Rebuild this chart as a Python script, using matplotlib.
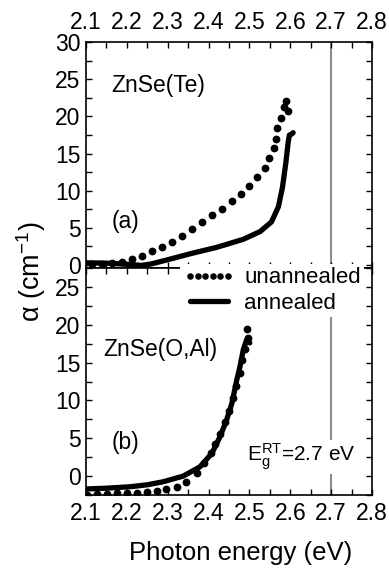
import numpy as np
import matplotlib
matplotlib.use("Agg")
import matplotlib.pyplot as plt
from matplotlib.ticker import MultipleLocator

plt.rcParams["font.family"] = ["Liberation Sans", "DejaVu Sans"]
plt.rcParams["mathtext.fontset"] = "custom"
plt.rcParams["mathtext.rm"] = "Liberation Sans"
plt.rcParams["mathtext.it"] = "Liberation Sans"

# (a) ZnSe(Te)
te_unann_e = [2.114, 2.139, 2.163, 2.187, 2.212, 2.236, 2.261, 2.285, 2.310, 2.336,
              2.360, 2.385, 2.409, 2.434, 2.457, 2.479, 2.499, 2.518, 2.538, 2.549,
              2.560, 2.564, 2.568, 2.577, 2.585, 2.589, 2.594]
te_unann_a = [0.15, 0.2, 0.25, 0.45, 0.81, 1.26, 1.88, 2.46, 3.14, 3.95,
              4.80, 5.79, 6.69, 7.58, 8.61, 9.51, 10.6, 11.8, 13.1, 14.4,
              15.8, 17.0, 18.4, 19.8, 21.2, 22.1, 20.7]
te_ann_e = [2.10, 2.15, 2.20, 2.236, 2.26, 2.297, 2.359, 2.420, 2.485, 2.526,
            2.554, 2.571, 2.581, 2.589, 2.595, 2.598, 2.603, 2.607]
te_ann_a = [0.3, 0.25, 0.1, -0.05, 0.15, 0.67, 1.57, 2.38, 3.46, 4.5,
            5.8, 7.85, 10.5, 13.7, 16.6, 17.5, 17.6, 17.8]

# (b) ZnSe(O,Al)
oal_unann_e = [2.102, 2.126, 2.151, 2.175, 2.200, 2.224, 2.249, 2.273, 2.297, 2.322,
               2.345, 2.371, 2.389, 2.405, 2.416, 2.428, 2.440, 2.450, 2.460, 2.468,
               2.476, 2.483, 2.488, 2.493, 2.497]
oal_unann_a = [-2.5, -2.4, -2.35, -2.3, -2.3, -2.2, -2.1, -1.94, -1.76, -1.41,
               -0.75, 0.44, 1.68, 3.0, 4.3, 5.6, 7.1, 8.6, 10.3, 11.9,
               13.6, 15.3, 16.8, 19.5, 18.2]
oal_ann_e = [2.10, 2.15, 2.208, 2.25, 2.289, 2.338, 2.379, 2.408, 2.428, 2.444,
             2.457, 2.469, 2.477, 2.485, 2.493, 2.501]
oal_ann_a = [-1.7, -1.6, -1.41, -1.15, -0.75, 0.0, 1.23, 3.0, 5.2, 7.4,
             9.6, 12.7, 14.5, 16.7, 18.0, 17.6]

e_gap = 2.7

fig = plt.figure(figsize=(3.89, 5.68), dpi=100)
left, right = 86 / 389, 372 / 389
y_top, y_mid, y_bot = 1 - 42 / 568, 1 - 268 / 568, 1 - 495 / 568
ax_a = fig.add_axes([left, y_mid, right - left, y_top - y_mid])
ax_b = fig.add_axes([left, y_bot, right - left, y_mid - y_bot])

tick_fs = 16.5
text_fs = 16.5
for ax in (ax_a, ax_b):
    ax.axvline(e_gap, color="#8c8c8c", lw=1.5, zorder=1)
    ax.set_xlim(2.1, 2.8)
    ax.xaxis.set_major_locator(MultipleLocator(0.1))
    ax.xaxis.set_minor_locator(MultipleLocator(0.05))
    ax.yaxis.set_major_locator(MultipleLocator(5))
    ax.yaxis.set_minor_locator(MultipleLocator(2.5))
    ax.tick_params(which="both", direction="in", top=True, bottom=True,
                   left=True, right=True, width=1.0, length=4.5,
                   labelsize=tick_fs)
    ax.tick_params(axis="y", pad=4)
    for s in ax.spines.values():
        s.set_linewidth(1.2)

ax_a.set_ylim(-0.4, 30)
ax_a.tick_params(axis="x", labelbottom=False, labeltop=True, pad=6)
ax_b.set_ylim(-2.5, 27.5)
ax_b.tick_params(axis="x", labelbottom=True, labeltop=False, pad=5)

dot_kw = dict(ls="none", marker="o", ms=4.6, color="black", zorder=3)
line_kw = dict(color="black", lw=3.8, solid_capstyle="round", zorder=2)

h_un, = ax_a.plot(te_unann_e, te_unann_a, label="unannealed", **dot_kw)
h_an, = ax_a.plot(te_ann_e, te_ann_a, label="annealed", **line_kw)
ax_b.plot(oal_ann_e, oal_ann_a, **line_kw)
ax_b.plot(oal_unann_e, oal_unann_a, **dot_kw)

ax_a.text(2.163, 24.1, "ZnSe(Te)", fontsize=text_fs, va="center", ha="left")
ax_a.text(2.163, 5.8, "(a)", fontsize=text_fs, va="center", ha="left")
ax_b.text(2.142, 16.7, "ZnSe(O,Al)", fontsize=text_fs, va="center", ha="left")
ax_b.text(2.163, 4.4, "(b)", fontsize=text_fs, va="center", ha="left")
ax_b.text(2.494, 2.5, r"E$_{\mathrm{g}}^{\mathrm{RT}}$=2.7 eV", fontsize=15,
          va="center", ha="left", zorder=4,
          bbox=dict(facecolor="white", edgecolor="none", pad=1))

leg = fig.legend(handles=[h_un, h_an], loc="upper left",
                 bbox_to_anchor=(180 / 389, 1 - 264 / 568), numpoints=6,
                 markerscale=0.8, fontsize=16, frameon=True, fancybox=False,
                 facecolor="white", edgecolor="none", framealpha=1,
                 borderpad=0.15, borderaxespad=0, handlelength=2.3,
                 handletextpad=0.45, labelspacing=0.2)
leg.set_zorder(10)

fig.text(31 / 389, 1 - 272 / 568, r"α (cm$^{\mathrm{-1}}$)", rotation=90,
         fontsize=19.5, ha="center", va="center")
fig.text(241 / 389, 1 - 553 / 568, "Photon energy (eV)", fontsize=18.5,
         ha="center", va="center")

fig.savefig("out.png", dpi=100)
